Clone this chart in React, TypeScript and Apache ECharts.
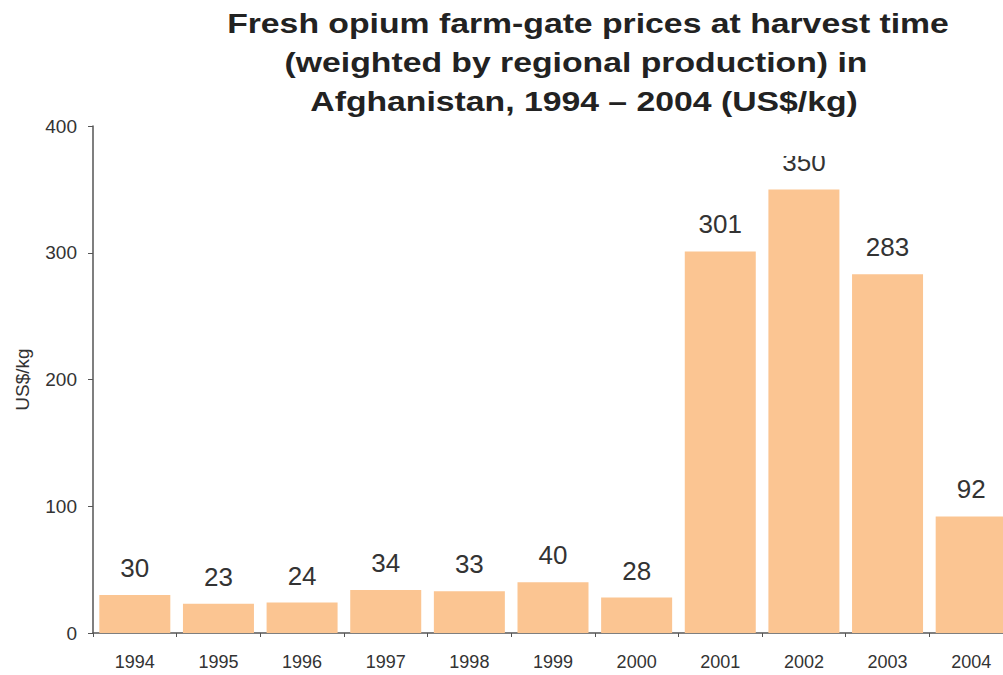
import React, { useEffect, useRef } from "react";
import * as echarts from "echarts";

const years = ["1994", "1995", "1996", "1997", "1998", "1999", "2000", "2001", "2002", "2003", "2004"];
const prices = [30, 23, 24, 34, 33, 40, 28, 301, 350, 283, 92];
const titleLines = [
  "Fresh opium farm-gate prices at harvest time",
  "(weighted by regional production) in",
  "Afghanistan, 1994 \u2013 2004 (US$/kg)",
];
const titleCenters = [588, 576, 584];

export default function App() {
  const ref = useRef<HTMLDivElement>(null);
  useEffect(() => {
    if (!ref.current) return;
    const chart = echarts.init(ref.current, null, { renderer: "svg" });
    chart.setOption({
      animation: false,
      backgroundColor: "#ffffff",
      textStyle: { fontFamily: "Liberation Sans, Arial, sans-serif" },
      graphic: [
        { type: "rect", left: 220, top: 0, shape: { width: 780, height: 156 }, style: { fill: "#ffffff" }, z: 50 },
        ...titleLines.map((t, i) => ({
          type: "text",
          x: titleCenters[i],
          y: 23 + i * 39,
          scaleX: 1.25,
          z: 60,
          style: {
            text: t,
            fill: "#222",
            font: "bold 27px 'Liberation Sans', Arial, sans-serif",
            textAlign: "center",
            textVerticalAlign: "middle",
          },
        })),
      ],
      grid: { left: 93, top: 126, bottom: 42, right: 17 },
      xAxis: {
        type: "category",
        data: years,
        axisLine: { lineStyle: { color: "#555", width: 1.5 } },
        axisTick: { show: true, length: 4, lineStyle: { color: "#555" } },
        axisLabel: { color: "#333", fontSize: 18, margin: 20 },
      },
      yAxis: {
        type: "value",
        min: 0,
        max: 400,
        interval: 100,
        name: "US$/kg",
        nameLocation: "middle",
        nameGap: 61,
        nameRotate: 90,
        nameTextStyle: { color: "#333", fontSize: 19 },
        axisLine: { show: true, lineStyle: { color: "#555", width: 1.5 } },
        axisTick: { show: true, length: 5, lineStyle: { color: "#555" } },
        axisLabel: { color: "#333", fontSize: 19, margin: 16 },
        splitLine: { show: false },
      },
      series: [
        {
          type: "bar",
          data: prices,
          barWidth: 71,
          itemStyle: { color: "#FBC592" },
          label: {
            show: true,
            position: "top",
            distance: 14,
            color: "#333",
            fontSize: 26,
          },
        },
      ],
    });
    return () => chart.dispose();
  }, []);
  return (
    <div style={{ width: 1003, height: 675, position: "absolute", left: 0, top: 0, overflow: "hidden" }}>
      <div ref={ref} style={{ width: 1030, height: 675 }} />
    </div>
  );
}
